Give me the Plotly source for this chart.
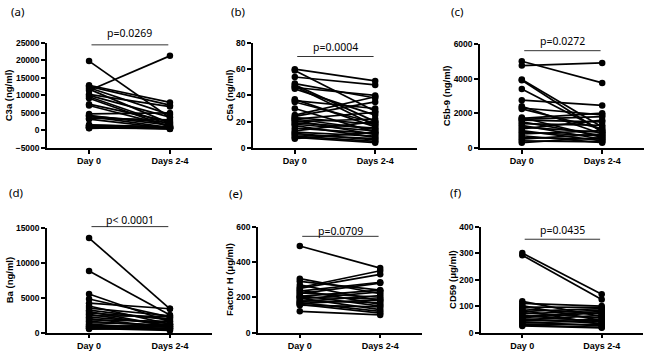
import plotly.graph_objects as go

categories = ["Day 0", "Days 2-4"]

c3a_day0 = [19800, 11400, 12900, 12600, 12200, 11800, 10300, 10000, 9600, 9200, 7500, 7100, 4700, 4300, 4000, 3500, 3200, 1600, 1300, 1100, 1000, 900, 800, 700, 600, 1500, 4100]
c3a_day24 = [3600, 21300, 8000, 7200, 4500, 2000, 6800, 3800, 1600, 1000, 2500, 1200, 5000, 1500, 800, 3000, 600, 1000, 500, 700, 600, 400, 800, 500, 1100, 900, 2200]

c5a_day0 = [60, 59, 54, 49, 48, 47, 46, 45, 37, 36, 35, 30, 25, 24, 23, 22, 22, 21, 20, 19, 18, 17, 15, 13, 12, 11, 10, 9, 8, 7]
c5a_day24 = [51, 28, 48, 38, 20, 17, 40, 25, 16, 30, 19, 12, 39, 35, 18, 14, 27, 10, 22, 15, 13, 8, 11, 20, 9, 6, 7, 5, 4, 12]

c5b9_day0 = [5000, 4750, 3950, 3900, 3400, 2750, 2400, 2300, 2250, 1750, 1700, 1650, 1600, 1500, 1400, 1300, 1200, 1100, 1000, 900, 800, 700, 600, 500, 400, 300]
c5b9_day24 = [3750, 4900, 1200, 900, 1000, 2450, 800, 1900, 1100, 600, 2000, 1800, 1500, 700, 1300, 500, 900, 1600, 400, 700, 1000, 300, 500, 800, 350, 600]

ba_day0 = [13500, 8800, 5500, 4800, 4200, 3800, 3500, 3200, 3000, 2800, 2600, 2400, 2200, 2000, 1800, 1600, 1400, 1200, 1000, 900, 800, 700, 600, 500]
ba_day24 = [3400, 2500, 1500, 2200, 3400, 1200, 2400, 1800, 900, 2000, 1000, 2300, 1300, 700, 1600, 900, 1100, 500, 800, 600, 400, 1200, 300, 600]

fh_day0 = [490, 305, 290, 270, 255, 250, 240, 235, 225, 220, 210, 205, 200, 195, 190, 180, 175, 170, 165, 160, 155, 120]
fh_day24 = [365, 220, 240, 180, 350, 330, 160, 285, 200, 280, 150, 240, 190, 130, 230, 170, 210, 120, 185, 110, 145, 100]

cd59_day0 = [300, 292, 118, 110, 102, 96, 90, 85, 80, 75, 70, 65, 60, 56, 52, 48, 44, 40, 36, 32, 28, 25]
cd59_day24 = [145, 125, 60, 100, 45, 95, 70, 30, 90, 55, 85, 40, 80, 75, 35, 65, 50, 25, 45, 30, 20, 18]

panel_letters = ["(a)", "(b)", "(c)", "(d)", "(e)", "(f)"]
y_titles = ["C3a (ng/ml)", "C5a (ng/ml)", "C5b-9 (ng/ml)", "Ba (ng/ml)", "Factor H (μg/ml)", "CD59 (μg/ml)"]
p_values = ["p=0.0269", "p=0.0004", "p=0.0272", "p< 0.0001", "p=0.0709", "p=0.0435"]
y_ranges = [(-5000, 25000), (0, 80), (0, 6000), (0, 15000), (0, 600), (0, 400)]
y_dticks = [5000, 20, 2000, 5000, 200, 100]

data = [
    (c3a_day0, c3a_day24),
    (c5a_day0, c5a_day24),
    (c5b9_day0, c5b9_day24),
    (ba_day0, ba_day24),
    (fh_day0, fh_day24),
    (cd59_day0, cd59_day24),
]

W, H = 669, 357
# layout in pixels: (x_left, x_right, y_top, y_bottom)
boxes = [
    (47, 212, 39, 147),
    (253, 417, 39, 147),
    (480, 644, 40, 147),
    (47, 212, 229, 337),
    (258, 422, 228, 337),
    (481, 643, 228, 337),
]
bar_px = [41, 53, 47, 228, 238, 241]
text_px = [29, 43, 37, 221, 232, 231]
label_pos = [(9, 7), (229, 7), (449, 7), (7, 193), (227, 194), (448, 193)]

fig = go.Figure()
layout = dict(
    width=W, height=H, margin=dict(l=0, r=0, t=0, b=0),
    plot_bgcolor="white", paper_bgcolor="white", showlegend=False,
)
annotations = []
shapes = []
axis_font = dict(family="Liberation Sans, Arial", size=8.5, color="black", weight="bold")

for i, ((d0, d2), (xl, xr, yt, yb)) in enumerate(zip(data, boxes)):
    n = i + 1
    xa = "x" if n == 1 else f"x{n}"
    ya = "y" if n == 1 else f"y{n}"
    for a, b in zip(d0, d2):
        fig.add_trace(go.Scatter(
            x=categories, y=[a, b], mode="lines+markers",
            line=dict(color="black", width=1.7),
            marker=dict(color="black", size=6.5),
            xaxis=xa, yaxis=ya, hoverinfo="skip", cliponaxis=False,
        ))
    xkey = "xaxis" if n == 1 else f"xaxis{n}"
    ykey = "yaxis" if n == 1 else f"yaxis{n}"
    layout[xkey] = dict(
        domain=[xl / W, xr / W], anchor=ya, type="category",
        categoryorder="array", categoryarray=categories,
        range=[-0.52, 1.52], showline=True, linecolor="black", linewidth=1.5,
        ticks="outside", ticklen=4, tickwidth=1.5, tickcolor="black",
        showgrid=False, zeroline=False, tickfont=dict(axis_font, size=9), fixedrange=True,
    )
    layout[ykey] = dict(
        domain=[1 - yb / H, 1 - yt / H], anchor=xa,
        range=list(y_ranges[i]), dtick=y_dticks[i], tick0=0, tickformat="d",
        showline=True, linecolor="black", linewidth=1.5,
        ticks="outside", ticklen=4, tickwidth=1.5, tickcolor="black",
        showgrid=False, zeroline=False, tickfont=axis_font,
        title=dict(text=y_titles[i], font=dict(family="Liberation Sans, Arial", size=9.5, color="black", weight="bold"), standoff=1),
    )
    h = yb - yt
    bar_frac = (yb - bar_px[i]) / h
    text_frac = (yb - text_px[i]) / h
    shapes.append(dict(type="line", xref=xa, yref=f"{ya} domain", x0=0.03, x1=0.98,
                       y0=bar_frac, y1=bar_frac, line=dict(color="#333333", width=1)))
    annotations.append(dict(text=p_values[i], xref=xa, yref=f"{ya} domain", x=0.5, y=text_frac,
                            showarrow=False, xanchor="center", yanchor="middle",
                            font=dict(family="Noto Sans", size=10.5, color="black")))
    lx, ly = label_pos[i]
    annotations.append(dict(text=panel_letters[i], xref="paper", yref="paper", x=lx / W, y=1 - ly / H,
                            showarrow=False, xanchor="left", yanchor="middle",
                            font=dict(family="Noto Sans", size=11.5, color="black")))

layout["annotations"] = annotations
layout["shapes"] = shapes
fig.update_layout(**layout)
fig.write_html("out.html", config={"displayModeBar": False},
               post_script="document.body.style.margin='0';document.body.style.overflow='hidden';")
